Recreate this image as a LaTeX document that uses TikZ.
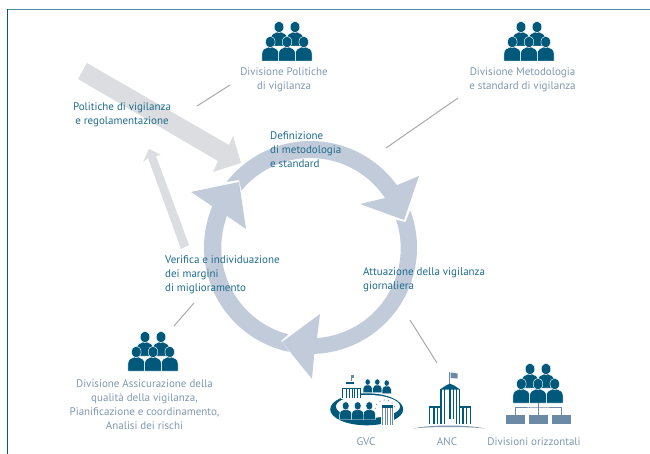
\documentclass[tikz,border=0pt]{standalone}
\usepackage{fontspec}
\setmainfont{PT Sans}
\usetikzlibrary{positioning, calc}

\definecolor{darkblue}{HTML}{00587A}
\definecolor{framelight}{HTML}{4F8CA8}
\definecolor{labelblue}{HTML}{1F6C8C}
\definecolor{labelgrey}{HTML}{7F98B0}
\definecolor{ringblue}{HTML}{C2CBDA}
\definecolor{lightgrey}{HTML}{DCDDE0}
\definecolor{linegrey}{HTML}{A8A9AD}
\definecolor{boxblue}{HTML}{6B8AA5}

\tikzset{
    person/.pic={
        \fill[darkblue, draw=white, line width=0.45pt] (-8.4,0) -- (-8.4,-7) .. controls (-8.4,-12) and (-5,-13) .. (-2,-14) -- (2,-14) .. controls (5,-13) and (8.4,-12) .. (8.4,-7) -- (8.4,0) -- cycle;
        \fill[darkblue, draw=white, line width=0.45pt] (0,-19) ellipse [x radius=4.8, y radius=5.8];
    },
    people/.pic={
        \pic at (-8,-15) {person};
        \pic at (8,-15) {person};
        \pic at (-16.7,0) {person};
        \pic at (16.7,0) {person};
        \pic at (0,0) {person};
    }
}

\begin{document}
\begin{tikzpicture}[
    x=1pt, y=-1pt,
    % STYLES
    sidetext/.style={font=\fontsize{11}{13.9}\selectfont, color=labelgrey, align=center, inner sep=0pt},
    steptext/.style={font=\fontsize{11}{13.9}\selectfont, color=labelblue, align=left, inner sep=0pt},
    leader/.style={draw=linegrey, line width=1pt},
    orgbox/.style={rectangle, fill=boxblue, minimum width=19pt, minimum height=9pt, inner sep=0pt},
    orgline/.style={draw=boxblue, line width=0.6pt},
    wallbar/.style={fill=darkblue}
]
    \useasboundingbox (0,0) rectangle (650,454);

    \coordinate (cyc) at (310.5,247.5);

    % Frame
    \draw[framelight, line width=1pt] (7,9.5) -- (650,9.5);
    \draw[darkblue, line width=1pt] (7.5,9) -- (7.5,454);

    % Grey arrows
    \fill[lightgrey] (87,63) -- (229,145) -- (233,136) -- (241,163) -- (213,172) -- (218,161) -- (78,79) -- cycle;
    \fill[lightgrey] (181,249) -- (148,158) -- (143,162) -- (149,149) -- (161,155) -- (156,156) -- (189,245) -- cycle;

    % Ring arrows
    \fill[ringblue] (cyc) ++(218:106.5) arc[start angle=218, end angle=324.2, radius=106.5] -- (419,176) -- (404,220) -- (360,204) -- (385,198) arc[start angle=326.4, end angle=219.5, radius=89.5] -- (239,180) -- cycle;
    \fill[ringblue] (cyc) ++(-20.6:106.5) arc[start angle=-20.6, end angle=88, radius=106.5] -- (312,379) -- (282,342) -- (320,314) -- (317,338) arc[start angle=86, end angle=-18.4, radius=90] -- (405.5,222) -- cycle;
    \fill[ringblue] (cyc) ++(101.5:106.5) arc[start angle=101.5, end angle=202.8, radius=106.5] -- (191,192) -- (239,182) -- (246,229) -- (227,216) arc[start angle=200.7, end angle=104.4, radius=89.5] -- (281,341) -- cycle;

    % Leader lines
    \coordinate (pol_a) at (197,106);
    \coordinate (pol_b) at (230,85);
    \coordinate (met_a) at (386,148);
    \coordinate (met_b) at (458,98);
    \coordinate (ass_a) at (194,303);
    \coordinate (ass_b) at (174,326);
    \coordinate (att_a) at (410,320);
    \coordinate (att_b) at (437,363);
    \draw[leader] (pol_a) -- (pol_b);
    \draw[leader] (met_a) -- (met_b);
    \draw[leader] (ass_a) -- (ass_b);
    \draw[leader] (att_a) -- (att_b);

    % Groups of people
    \pic at (287,61) {people};
    \pic at (529,61) {people};
    \pic at (153,371) {people};
    \pic at (538,403) {people};

    % Labels
    \node[sidetext] (politiche) at (284,79.5) {Divisione Politiche\\di vigilanza};
    \node[sidetext] (metodologia) at (522.5,79.5) {Divisione Metodologia\\e standard di vigilanza};
    \node[sidetext] (assicurazione) at (144.5,404.5) {Divisione Assicurazione della\\qualità della vigilanza,\\Pianificazione e coordinamento,\\Analisi dei rischi};
    \node[sidetext] (gvc) at (366,442) {GVC};
    \node[sidetext] (anc) at (447,442) {ANC};
    \node[sidetext] (orizzontali) at (534,442) {Divisioni orizzontali};
    \node[steptext, align=center] (vigilanza) at (122,114.5) {Politiche di vigilanza\\e regolamentazione};
    \node[steptext, anchor=west] (definizione) at (270,149.5) {Definizione\\di metodologia\\e standard};
    \node[steptext, anchor=west] (verifica) at (165,274.5) {Verifica e individuazione\\dei margini\\di miglioramento};
    \node[steptext, anchor=west] (attuazione) at (363,279.5) {Attuazione della vigilanza\\giornaliera};

    % Horizontal divisions
    \node[orgbox] (box1) at (515.5,419.5) {};
    \node[orgbox] (box2) at (538.5,419.5) {};
    \node[orgbox] (box3) at (561.5,419.5) {};
    \coordinate (boxtop) at (538.5,403);
    \coordinate (boxbar) at (538.5,407);
    \draw[orgline] (box1.north) |- (boxbar) -| (box3.north);
    \draw[orgline] (box2.north) -- (boxtop);

    % ANC
    \fill[boxblue] (449,372) rectangle (449.8,384);
    \fill[boxblue] (450.5,372.5) -- (457.7,373.5) -- (457.7,378.5) -- (450.5,378) -- cycle;
    \fill[darkblue] (440,389.5) .. controls (445,386) and (447,384.5) .. (450,383.7) .. controls (453,384.5) and (455,386) .. (460,389.5) -- cycle;
    \foreach \xa/\xb in {428.5/430, 433/434.5, 437/438, 440/441.5, 444/445, 449/451, 453/454, 456/457, 458.5/460, 462/463.5, 466/467, 469.5/470.5} {
        \fill[wallbar] (\xa,389) rectangle (\xb,424);
    }
    \fill[white] (427,388) rectangle (440,405.5);
    \fill[white] (460,388) rectangle (472,405.5);
    \fill[darkblue] (428.5,405.5) rectangle (440,407.5);
    \fill[darkblue] (460,405.5) rectangle (470.5,407.5);
    \fill[white] (446,419) rectangle (454,425);
    \fill[labelgrey] (413.5,428.5) .. controls (430,424.5) and (468,424.5) .. (485,428.5) .. controls (468,426.5) and (430,426.5) .. (413.5,428.5) -- cycle;

    % GVC
    \fill[darkblue] (366.7,409.3) ellipse [x radius=36.5, y radius=16];
    \fill[white] (368,406.5) ellipse [x radius=32, y radius=11.5];
    \pic[scale=0.72] at (345.7,419.5) {person};
    \pic[scale=0.72] at (357.7,419.5) {person};
    \pic[scale=0.72] at (369.3,419.5) {person};
    \pic[scale=0.55] at (367.7,392.5) {person};
    \pic[scale=0.55] at (377.3,392.5) {person};
    \pic[scale=0.55] at (386.7,393.5) {person};
    \foreach \ang in {190,215,240,265,290,315,340} {
        \fill[boxblue] ($(385,410)+(\ang:10)$) circle (0.6);
    }
    \fill[white] (341,388) rectangle (360,399);
    \fill[white] (345,381) rectangle (354,399);
    \foreach \xg in {342,346,349,351.5,354,357,359.5} {
        \fill[darkblue] (\xg,388) rectangle (\xg+0.8,398);
    }
    \fill[darkblue] (341.5,388) rectangle (360,389);
    \fill[darkblue] (346,382) rectangle (354,383.5);
    \fill[boxblue] (350.5,375) rectangle (351,381);
    \fill[boxblue] (351,375) rectangle (354,377.5);
    \fill[white] (381,405) rectangle (393.5,425);
    \foreach \xg in {382,384.5,387,389.5,392} {
        \fill[boxblue] (\xg,406) rectangle (\xg+1.2,424.5);
    }
    \fill[darkblue] (381.5,405) rectangle (393,407.5);

\end{tikzpicture}
\end{document}
